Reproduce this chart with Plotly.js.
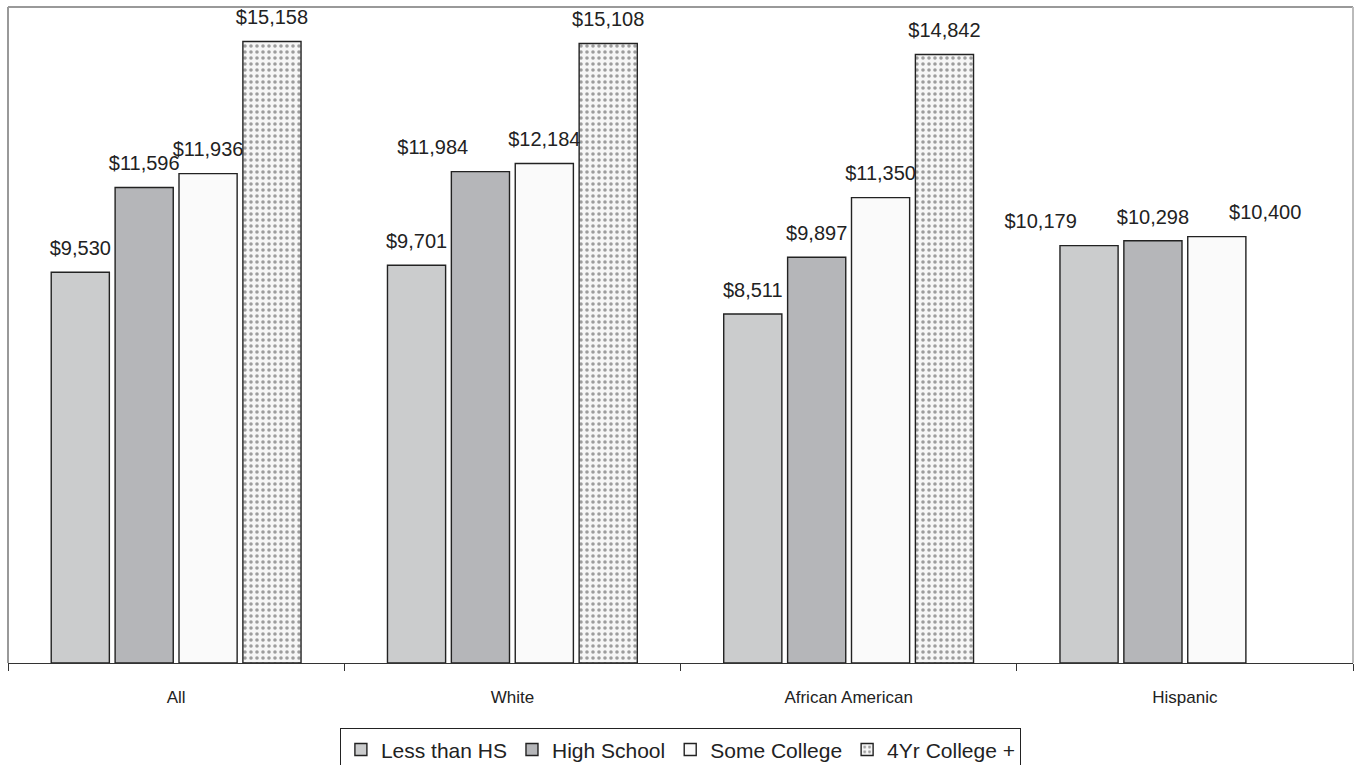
<!DOCTYPE html>
<html><head><meta charset="utf-8">
<script src="https://cdn.plot.ly/plotly-3.0.1.min.js"></script>
<style>html,body{margin:0;padding:0;background:#fff}#chart{width:1355px;height:765px}</style>
</head><body><div id="chart"></div>
<script>
const categories = ["All", "White", "African American", "Hispanic"];
const seriesNames = ["Less than HS", "High School", "Some College", "4Yr College +"];
const lessThanHS = [9530, 9701, 8511, 10179];
const highSchool = [11596, 11984, 9897, 10298];
const someCollege = [11936, 12184, 11350, 10400];
const college4yr = [15158, 15108, 14842, null];

const fills = ["#cbcccd", "#b5b6b9", "#fafafa", "#f4f4f4"];
const allVals = [lessThanHS, highSchool, someCollege, college4yr];
// label placement (style only), per series and category
const labelPos = [
  ["top center", "top center", "top center", "top left"],
  ["top center", "top left", "top center", "top center"],
  ["top center", "top center", "top center", "top right"],
  ["top center", "top center", "top center", "top center"]
];
const fmt = v => v == null ? "" : "$" + v.toLocaleString("en-US");
const FONT = "Liberation Sans, Arial, sans-serif";

const bars = allVals.map((vals, i) => {
  const m = {color: fills[i], line: {color: "#222", width: 1.4}};
  if (i === 3) m.pattern = {shape: ".", fgcolor: "#9d9d9d", bgcolor: "#f6f6f6", size: 6, solidity: 0.28};
  return {
    type: "bar", name: seriesNames[i], x: categories, y: vals,
    marker: m, hoverinfo: "none"
  };
});

const labels = allVals.map((vals, i) => ({
  type: "scatter", mode: "markers+text", x: categories, y: vals,
  text: vals.map(fmt), textposition: labelPos[i],
  textfont: {family: FONT, size: 20, color: "#222"},
  marker: {size: 18, opacity: 0}, showlegend: false, hoverinfo: "none",
  cliponaxis: false
}));

const layout = {
  width: 1355, height: 765,
  margin: {l: 8, r: 2, t: 7, b: 102, autoexpand: false},
  paper_bgcolor: "#fff", plot_bgcolor: "#fff",
  barmode: "group", bargap: 0.24, bargroupgap: 0.09,
  scattermode: "group", scattergap: 0.24,
  font: {family: FONT, color: "#222"},
  xaxis: {
    type: "category", showline: true, linecolor: "#333", linewidth: 1.4,
    ticks: "outside", tickson: "boundaries", ticklen: 7, tickcolor: "#333", tickwidth: 1,
    ticklabelstandoff: 18,
    tickfont: {size: 17, color: "#222"}, showgrid: false, zeroline: false
  },
  yaxis: {range: [0, 16000], showticklabels: false, showgrid: false, zeroline: false, showline: false, ticks: ""},
  showlegend: true,
  legend: {
    orientation: "h", x: 0.5, xanchor: "center", y: -0.099, yanchor: "top",
    bordercolor: "#222", borderwidth: 1.4, bgcolor: "#fff",
    font: {size: 21, color: "#222"}, traceorder: "normal", itemwidth: 30
  },
  shapes: [
    {type: "line", xref: "paper", yref: "paper", x0: 0, x1: 1, y0: 1, y1: 1, line: {color: "#999", width: 2}},
    {type: "line", xref: "paper", yref: "paper", x0: 0, x1: 0, y0: 0, y1: 1, line: {color: "#999", width: 2}},
    {type: "line", xref: "paper", yref: "paper", x0: 1, x1: 1, y0: 0, y1: 1, line: {color: "#bbb", width: 2}}
  ]
};
Plotly.newPlot("chart", bars.concat(labels), layout, {staticPlot: true});
</script></body></html>
